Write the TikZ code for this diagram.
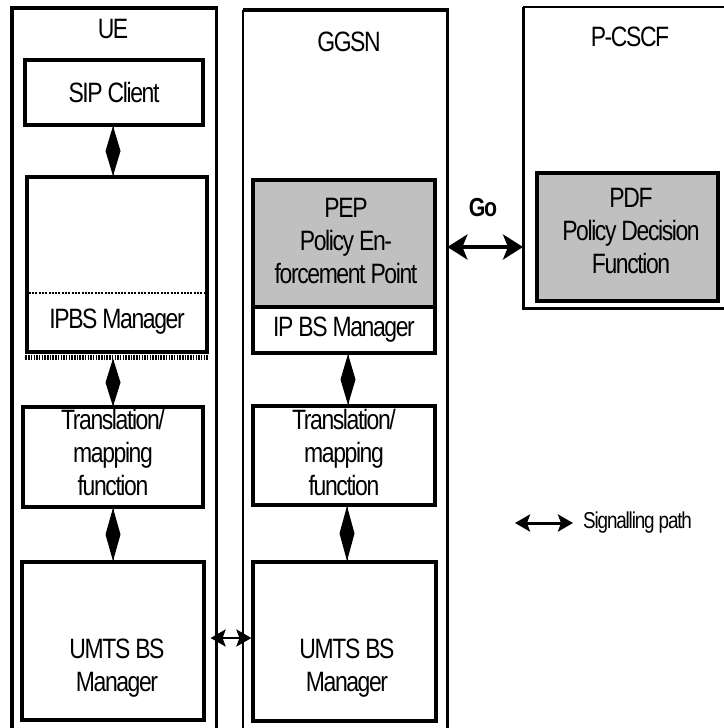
\documentclass[tikz,border=0pt]{standalone}
\usepackage{fontspec}
\setmainfont{Liberation Sans}[FakeStretch=0.82, LetterSpace=-5]
\usetikzlibrary{arrows.meta,shadows,shapes.geometric}
\definecolor{pepgray}{RGB}{192,192,192}
\begin{document}
\begin{tikzpicture}[x=1pt,y=-1pt,
  every node/.style={font=\fontsize{28}{33}\selectfont, inner sep=0pt, align=center},
  blk/.style={draw, fill=white, line width=3.2pt,
    drop shadow={shadow xshift=2pt, shadow yshift=-2pt, fill=black, opacity=1}},
  shaded/.style={blk, fill=pepgray},
  frame/.style={minimum width=204pt, minimum height=740pt, anchor=north west},
  link/.style={line width=1pt},
  lozenge/.style={diamond, fill=black, draw=none, inner sep=0pt, outer sep=0pt,
    minimum width=15pt, minimum height=#1, sloped=false},
  goarrow/.style={line width=4.5pt, {Stealth[length=20pt,width=25pt,inset=5pt]}-{Stealth[length=20pt,width=25pt,inset=5pt]}},
  sigarrow/.style={line width=3pt, {Stealth[length=15pt,width=17pt,inset=3pt]}-{Stealth[length=15pt,width=17pt,inset=3pt]}},
  small/.style={font=\fontsize{23}{26}\selectfont}
]
\useasboundingbox (0,0) rectangle (723,728);

% ---------- network element frames ----------
\node[frame] (ue) at (12,8) {};
\node[frame] (gg) at (243,10) {};
\node[minimum width=230pt, minimum height=301pt, anchor=north west] (pc) at (523,7) {};

\draw[line width=3.4pt] (ue.south west) -- (ue.north west) -- (ue.north east) -- (ue.south east);
\draw[line width=1.4pt] (gg.south west) -- (gg.north west);
\draw[line width=3.4pt] (gg.north west) -- (gg.north east) -- (gg.south east);
\draw[line width=1.8pt] (pc.north east) -- (pc.north west);
\draw[line width=3pt] (pc.north west) -- (pc.south west) -- (pc.south east);

\node (uet) at (113,29) {UE};
\node (ggt) at (349,42) {GGSN};
\node (pct) at (630,37) {P-CSCF};

% ---------- UE ----------
\node[blk, minimum width=178pt, minimum height=65pt] (sip) at (114,92.5) {SIP Client};
\node[blk, minimum width=180pt, minimum height=175pt] (ueip) at (117,264.5) {};
\coordinate (uedot) at (0,293);
\draw[line width=2.6pt, dash pattern=on 2pt off 1.3pt] (ueip.west |- uedot) -- (ueip.east |- uedot);
\draw[line width=5pt, dash pattern=on 1.5pt off 1.2pt]
  ([yshift=-4pt]ueip.south west) -- ([yshift=-4pt]ueip.south east);
\node (ueipl) at (117,322) {IPBS Manager};
\node[blk, minimum width=180pt, minimum height=100pt] (uetr) at (113,457) {};
\node (uetrl) at (113,452) {Translation/\\mapping\\function};
\node[blk, minimum width=182pt, minimum height=158pt] (ueum) at (113,641) {};
\node (ueuml) at (117,668) {UMTS BS\\Manager};

% ---------- GGSN ----------
\node[shaded, minimum width=182pt, minimum height=127pt] (pep) at (344,243.5) {};
\node (pepl) at (346,241) {PEP\\Policy En-\\forcement Point};
\node[blk, minimum width=182pt, minimum height=46pt] (ggip) at (344,330) {IP BS Manager};
\node[blk, minimum width=182pt, minimum height=99pt] (ggtr) at (344,455.5) {};
\node (ggtrl) at (344,452) {Translation/\\mapping\\function};
\node[blk, minimum width=183pt, minimum height=159pt] (ggum) at (344.5,641.5) {};
\node (gguml) at (347,668) {UMTS BS\\Manager};

% ---------- P-CSCF ----------
\node[shaded, minimum width=181pt, minimum height=128pt] (pdf) at (627.5,237) {};
\node (pdfl) at (631,231) {PDF\\Policy Decision\\Function};

% ---------- signalling paths (lozenge-shaped double heads) ----------
\draw[link] (sip.south -| 113,0) -- node[lozenge=50pt]{} (ueip.north -| 113,0);
\draw[link] ([yshift=-6pt]ueip.south -| 113,0) -- node[lozenge=48pt]{} (uetr.north -| 113,0);
\draw[link] (uetr.south -| 113,0) -- node[lozenge=53pt]{} (ueum.north -| 113,0);
\draw[link] (ggip.south -| 348,0) -- node[lozenge=51pt]{} (ggtr.north -| 348,0);
\draw[link] (ggtr.south -| 347,0) -- node[lozenge=55pt]{} (ggum.north -| 347,0);

\coordinate (go) at (483,247);
\node[font=\fontsize{26}{30}\selectfont\bfseries] (gol) at (483,208) {Go};
\draw[goarrow] (gg.east |- go) -- (pc.west |- go);

\coordinate (um) at (230,638);
\draw[line width=2.4pt, {Stealth[length=15pt,width=17pt,inset=3pt]}-{Stealth[length=15pt,width=17pt,inset=3pt]}]
  ([xshift=5pt]ueum.east |- um) -- (ggum.west |- um);

% ---------- legend ----------
\coordinate (lga) at (515,523);
\coordinate (lgb) at (573,523);
\draw[sigarrow] (lga) -- (lgb);
\node[small, anchor=west] (lgt) at (583,523) {Signalling path};

\end{tikzpicture}
\end{document}
